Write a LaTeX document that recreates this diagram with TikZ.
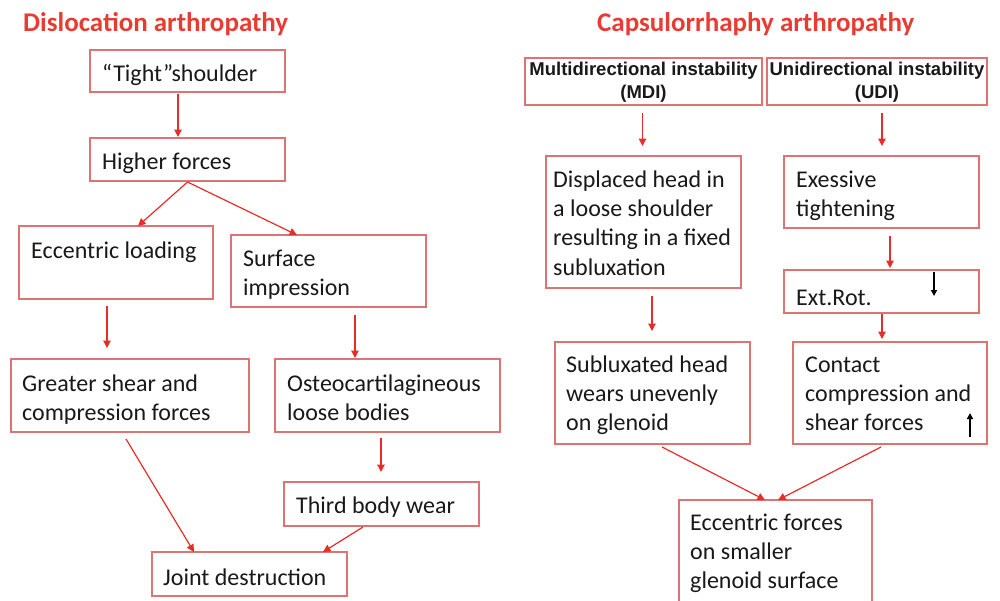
\documentclass[tikz,border=0pt]{standalone}
\usepackage{fontspec}
\setmainfont{Carlito}
\newfontfamily\lsans{Liberation Sans}
\usetikzlibrary{arrows.meta}
\definecolor{boxred}{RGB}{222,115,115}
\definecolor{arrred}{RGB}{232,45,40}
\definecolor{titred}{RGB}{232,60,50}
\definecolor{ink}{RGB}{25,25,25}
\newcommand\tl[1]{\vtop{\baselineskip=29.4pt\lineskiplimit=-100pt\halign{##\hfil\cr#1\crcr}}}
\newcommand\cl[1]{\vtop{\baselineskip=23.5pt\lineskiplimit=-100pt\halign{\hfil##\hfil\cr#1\crcr}}}
\begin{document}
\begin{tikzpicture}[x=1pt,y=-1pt,
  bx/.style={draw=boxred, line width=1.3pt, fill=white, inner sep=0pt, outer sep=0pt, anchor=north west},
  tx/.style={anchor=base west, inner sep=0pt, text=ink, font=\fontsize{24}{29.4}\selectfont},
  mt/.style={anchor=base, inner sep=0pt, text=ink, font=\lsans\bfseries\fontsize{18.5}{23.5}\selectfont},
  ar/.style={draw=arrred, line width=1.2pt, -{Triangle[length=7.5pt,width=7.5pt]}},
  bar/.style={draw=black, line width=1.8pt, -{Triangle[length=6pt,width=6pt]}},
  ttl/.style={anchor=base west, inner sep=0pt, text=titred, font=\fontsize{27}{32}\selectfont\bfseries}]
\useasboundingbox (0,0) rectangle (1000,600);
\clip (0,0) rectangle (1000,600);

% titles
\node[ttl] (t1) at (23,31) {Dislocation arthropathy};
\node[ttl] (t2) at (597,31) {Capsulorrhaphy arthropathy};

% left boxes
\node[bx, minimum width=195pt, minimum height=42pt] (tight) at (90,50) {};
\node[bx, minimum width=195pt, minimum height=43pt] (higher) at (90,138) {};
\node[bx, minimum width=194pt, minimum height=73pt] (ecc) at (19,226) {};
\node[bx, minimum width=195pt, minimum height=72pt] (surf) at (231,235) {};
\node[bx, minimum width=238pt, minimum height=73pt] (greater) at (11,359) {};
\node[bx, minimum width=225pt, minimum height=73pt] (osteo) at (275,359) {};
\node[bx, minimum width=195pt, minimum height=44pt] (third) at (284,482) {};
\node[bx, minimum width=195pt, minimum height=44pt] (joint) at (152,552) {};

% right boxes
\node[bx, minimum width=237pt, minimum height=47pt] (mdi) at (525,58) {};
\node[bx, minimum width=220pt, minimum height=47pt] (udi) at (767,58) {};
\node[bx, minimum width=195pt, minimum height=132pt] (disp) at (546,156) {};
\node[bx, minimum width=195pt, minimum height=72pt] (exes) at (784,156) {};
\node[bx, minimum width=195pt, minimum height=43pt] (ext) at (784,270) {};
\node[bx, minimum width=195pt, minimum height=102pt] (subl) at (555,342) {};
\node[bx, minimum width=194pt, minimum height=102pt] (cont) at (793,342) {};
\node[bx, minimum width=193pt, minimum height=120pt] (eccf) at (679,500) {};

% texts
\node[tx] (tightT) at (102,81) {“Tight”shoulder};
\node[tx] (higherT) at (102,169) {Higher forces};
\node[tx] (eccT) at (31,258) {Eccentric loading};
\node[tx] (surfT) at (243,266) {\tl{Surface\cr impression}};
\node[tx] (greatT) at (22,391) {\tl{Greater shear and\cr compression forces}};
\node[tx] (osteoT) at (287,391) {\tl{Osteocartilagineous\cr loose bodies}};
\node[tx] (thirdT) at (296,513) {Third body wear};
\node[tx] (jointT) at (163,585) {Joint destruction};

\node[mt] (mdiT) at (643.5,75) {\cl{Multidirectional instability\cr (MDI)}};
\node[mt] (udiT) at (877,75) {\cl{Unidirectional instability\cr (UDI)}};
\node[tx] (dispT) at (553,187) {\tl{Displaced head in\cr a loose shoulder\cr resulting in a fixed\cr subluxation}};
\node[tx] (exesT) at (796,187) {\tl{Exessive\cr tightening}};
\node[tx] (extT) at (796,305) {Ext.Rot.};
\node[tx] (sublT) at (566,372) {\tl{Subluxated head\cr wears unevenly\cr on glenoid}};
\node[tx] (contT) at (805,372) {\tl{Contact\cr compression and\cr shear forces}};
\node[tx] (eccfT) at (690,530) {\tl{Eccentric forces\cr on smaller\cr glenoid surface}};

% left arrows
\draw[ar] ([xshift=-9.5pt,yshift=-2pt]tight.south) -- ([xshift=-9.5pt,yshift=1pt]higher.north);
\draw[ar] ([yshift=-1pt]higher.south) -- ([xshift=22pt]ecc.north);
\draw[ar] ([yshift=-1pt]higher.south) -- ([xshift=-31.5pt]surf.north);
\draw[ar] ([xshift=-9pt,yshift=-7pt]ecc.south) -- ([xshift=-23pt,yshift=11pt]greater.north);
\draw[ar] ([xshift=26.5pt,yshift=-8pt]surf.south) -- ([xshift=-32.5pt,yshift=1pt]osteo.north);
\draw[ar] ([xshift=-6.5pt,yshift=-6pt]osteo.south) -- ([xshift=-0.5pt,yshift=10pt]third.north);
\draw[ar] ([xshift=-4pt,yshift=-7pt]greater.south) -- ([xshift=-55.5pt]joint.north);
\draw[ar] ([xshift=-18.5pt,yshift=-1pt]third.south) -- ([xshift=73.5pt]joint.north);

% right arrows
\draw[ar] ([xshift=-1pt,yshift=-8pt]mdi.south) -- ([xshift=-1pt,yshift=10pt]disp.north);
\draw[ar] ([xshift=5pt,yshift=-8pt]udi.south) -- ([xshift=0.5pt,yshift=10pt]exes.north);
\draw[ar] ([xshift=8.5pt,yshift=-8pt]exes.south) -- ([xshift=8.5pt,yshift=2pt]ext.north);
\draw[ar] ([xshift=8.5pt,yshift=-8pt]disp.south) -- ([xshift=-0.5pt,yshift=11pt]subl.north);
\draw[ar] ([xshift=0.5pt,yshift=-1pt]ext.south) -- ([xshift=-8pt,yshift=3pt]cont.north);
\draw[ar] ([xshift=9.5pt,yshift=-3pt]subl.south) -- ([xshift=-10.5pt]eccf.north);
\draw[ar] ([xshift=-9pt,yshift=-3pt]cont.south) -- ([xshift=2.5pt]eccf.north);

% black indicator arrows
\draw[bar] ([xshift=-45pt,yshift=-2pt]ext.north east) -- ([xshift=-45pt,yshift=-26pt]ext.north east);
\draw[bar] ([xshift=-17pt,yshift=7pt]cont.south east) -- ([xshift=-17pt,yshift=31pt]cont.south east);
\end{tikzpicture}
\end{document}
